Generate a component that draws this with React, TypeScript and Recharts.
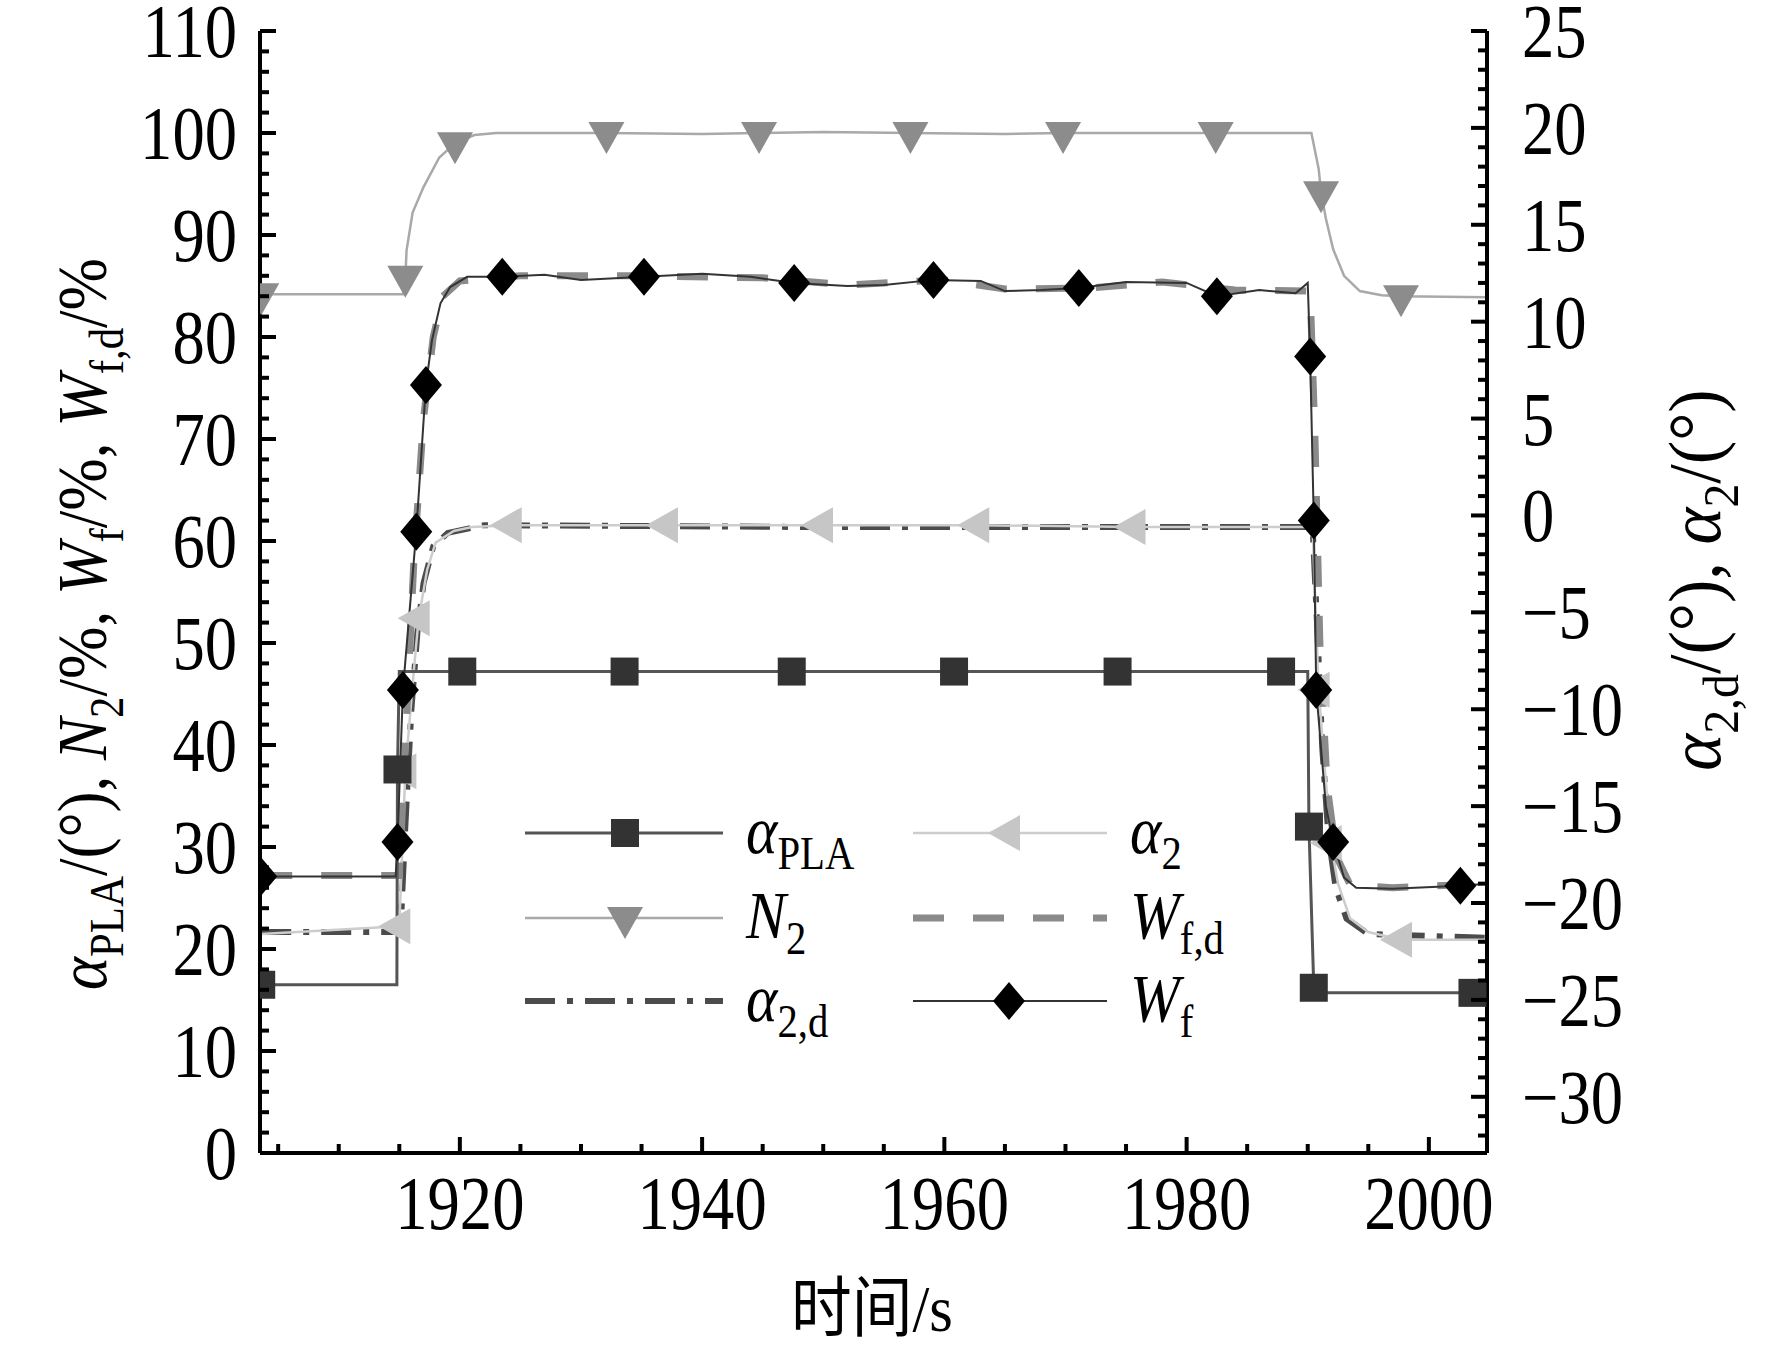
import React from 'react';
import { LineChart, Line, XAxis, YAxis } from 'recharts';

const FONT = "'Liberation Serif', 'Times New Roman', serif";
const W = 1772;
const H = 1349;
const PLOT = { left: 260, right: 1487, top: 31, bottom: 1153 };

// axes
const timeDomain = [1903.5, 2004.8];
const timeMajor = [1920, 1940, 1960, 1980, 2000];
const timeTicks = Array.from({ length: 20 }, (_, i) => 1905 + i * 5);
const leftDomain = [0, 110];
const leftMajor = [0, 10, 20, 30, 40, 50, 60, 70, 80, 90, 100, 110];
const leftTicks = Array.from({ length: 56 }, (_, i) => i * 2);
const rightDomain = [-32.9, 25];
const rightMajor = [-30, -25, -20, -15, -10, -5, 0, 5, 10, 15, 20, 25];
const rightTicks = Array.from({ length: 58 }, (_, i) => -32 + i);

// [time s, value, marker]
const alphaPLA = [
  [1903.6, 16.5, 1], [1914.8, 16.5], [1914.85, 37.6, 1], [1915.0, 47.2],
  [1920.2, 47.2, 1], [1933.6, 47.2, 1], [1947.4, 47.2, 1], [1960.8, 47.2, 1],
  [1974.3, 47.2, 1], [1987.8, 47.2, 1], [1990.0, 47.2], [1990.1, 32.0, 1],
  [1990.5, 16.2, 1], [1991.0, 15.7], [2003.6, 15.7, 1], [2004.8, 15.7],
];

const N2 = [
  [1903.6, 84.2, 1], [1915.3, 84.2], [1915.5, 85.9, 1], [1915.6, 88.5],
  [1916.1, 92.2], [1917.0, 94.7], [1918.3, 97.6], [1919.6, 99.0, 1],
  [1921.2, 99.8], [1923.0, 100.0], [1932.1, 100.0, 1], [1940.0, 99.9],
  [1944.7, 100.0, 1], [1950.0, 100.1], [1957.2, 100.0, 1], [1965.0, 99.9],
  [1969.8, 100.0, 1], [1982.4, 100.0, 1], [1990.3, 100.0], [1990.9, 96.5],
  [1991.1, 94.2, 1], [1991.5, 91.6], [1992.1, 88.6], [1993.0, 86.0],
  [1994.3, 84.5], [1996.1, 84.1], [1997.7, 84.0, 1], [2004.8, 83.9],
];

const alpha2d = [
  [1903.6, -21.5], [1915.1, -21.5], [1915.5, -16.0], [1916.0, -10.0],
  [1916.5, -6.0], [1917.0, -3.5], [1917.8, -1.6], [1919.0, -0.9],
  [1922.0, -0.5], [1950.0, -0.6], [1990.4, -0.6], [1990.8, -6.0],
  [1991.2, -12.0], [1991.7, -16.5], [1992.3, -19.2], [1993.2, -20.8],
  [1995.0, -21.6], [2004.8, -21.8],
];

const alpha2 = [
  [1903.6, -21.6], [1915.0, -21.2, 1], [1915.5, -13.2, 1], [1916.2, -8.0],
  [1916.6, -5.3, 1], [1917.3, -2.8], [1918.0, -1.4], [1919.5, -0.8],
  [1921.0, -0.6], [1924.2, -0.5, 1], [1937.1, -0.5, 1], [1949.9, -0.5, 1],
  [1962.8, -0.5, 1], [1975.7, -0.6, 1], [1988.0, -0.6], [1990.4, -0.6],
  [1990.9, -9.0, 1], [1991.9, -16.9, 1], [1992.5, -19.0], [1993.5, -20.8],
  [1995.0, -21.5], [1997.7, -21.9, 1], [2004.8, -21.9],
];

const Wfd = [
  [1903.6, 27.2], [1915.0, 27.2], [1915.5, 40.0], [1916.2, 58.0],
  [1917.0, 72.0], [1917.8, 80.0], [1918.6, 84.0], [1920.0, 85.5],
  [1925.0, 86.0], [1935.0, 86.0], [1945.0, 85.8], [1952.0, 85.1],
  [1960.0, 85.6], [1965.0, 84.7], [1972.0, 84.8], [1978.0, 85.4],
  [1984.0, 84.6], [1990.2, 84.5], [1990.6, 70.0], [1991.0, 50.0],
  [1991.6, 36.0], [1992.4, 29.0], [1993.5, 26.3], [1997.0, 26.0],
  [2004.8, 26.4],
];

const Wf = [
  [1903.6, 27.1, 1], [1914.7, 27.1], [1914.85, 30.5, 1], [1915.3, 45.4, 1],
  [1916.4, 60.9, 1], [1917.2, 75.3, 1], [1917.7, 79.7], [1918.4, 83.3],
  [1919.2, 84.9], [1920.6, 85.9], [1923.5, 85.9, 1], [1927.0, 86.1],
  [1930.0, 85.6], [1935.2, 85.9, 1], [1940.0, 86.2], [1944.0, 85.9],
  [1947.6, 85.3, 1], [1952.0, 85.0], [1955.0, 85.1], [1959.1, 85.6, 1],
  [1963.0, 85.5], [1965.0, 84.5], [1968.0, 84.6], [1971.1, 84.8, 1],
  [1975.0, 85.4], [1980.0, 85.3], [1982.5, 84.0, 1], [1986.0, 84.6],
  [1989.0, 84.3], [1990.0, 85.3], [1990.2, 78.1, 1], [1990.5, 62.0, 1],
  [1990.7, 45.4, 1], [1991.5, 34.0], [1992.1, 30.5, 1], [1993.0, 27.0],
  [1994.0, 26.0], [1997.0, 25.9], [2002.6, 26.2, 1], [2004.8, 26.4],
];

const toPts = (rows: number[][]) => rows.map(([t, v, m]) => ({ t, v, m: !!m }));

type Kind = 'square' | 'down' | 'left' | 'diamond';

const markerPath = (kind: Kind, cx: number, cy: number) => {
  switch (kind) {
    case 'down':
      return `M${cx - 18},${cy - 11} L${cx + 18},${cy - 11} L${cx},${cy + 21} Z`;
    case 'left':
      return `M${cx - 21},${cy} L${cx + 11},${cy - 18} L${cx + 11},${cy + 18} Z`;
    case 'diamond':
      return `M${cx},${cy - 19} L${cx + 16},${cy} L${cx},${cy + 19} L${cx - 16},${cy} Z`;
    default:
      return `M${cx - 14},${cy - 14} h28 v28 h-28 Z`;
  }
};

const makeDot = (kind: Kind, fill: string) => (p: any) => {
  const { cx, cy, payload, index } = p;
  if (!payload || !payload.m || cx == null || cy == null) return <g key={`d${index}`} />;
  return <path key={`d${index}`} d={markerPath(kind, cx, cy)} fill={fill} />;
};

const series = [
  { key: 'a2d', data: alpha2d, axis: 'right', stroke: '#4b4b4b', width: 6, dash: '30 12 6 12', kind: null, fill: '' },
  { key: 'a2', data: alpha2, axis: 'right', stroke: '#cdcdcd', width: 2.5, dash: undefined, kind: 'left', fill: '#c6c6c6' },
  { key: 'wfd', data: Wfd, axis: 'left', stroke: '#8a8a8a', width: 7, dash: '31 29', kind: null, fill: '' },
  { key: 'n2', data: N2, axis: 'left', stroke: '#a9a9a9', width: 2.5, dash: undefined, kind: 'down', fill: '#8c8c8c' },
  { key: 'pla', data: alphaPLA, axis: 'left', stroke: '#555555', width: 3, dash: undefined, kind: 'square', fill: '#333333' },
  { key: 'wf', data: Wf, axis: 'left', stroke: '#333333', width: 2, dash: undefined, kind: 'diamond', fill: '#000000' },
];

const fmt = (v: number) => (v < 0 ? '\u2212' + Math.abs(v) : String(v));

const NumLabel = ({ x, y, anchor, children }: any) => (
  <g transform={`translate(${x},${y}) scale(0.85,1)`}>
    <text textAnchor={anchor} fontSize={76} fontFamily={FONT} fill="#000">{children}</text>
  </g>
);

const LeftTick = (p: any) => {
  const v = p.payload.value;
  const y = p.y;
  const major = leftMajor.includes(v);
  return (
    <g key={`l${v}`}>
      <line x1={PLOT.left} x2={PLOT.left + (major ? 16 : 9)} y1={y} y2={y} stroke="#000" strokeWidth={4} />
      {major && <NumLabel x={237} y={y + 26} anchor="end">{fmt(v)}</NumLabel>}
    </g>
  );
};

const RightTick = (p: any) => {
  const v = p.payload.value;
  const y = p.y;
  const major = rightMajor.includes(v);
  return (
    <g key={`r${v}`}>
      <line x1={PLOT.right} x2={PLOT.right - (major ? 16 : 9)} y1={y} y2={y} stroke="#000" strokeWidth={4} />
      {major && <NumLabel x={1522} y={y + 26} anchor="start">{fmt(v)}</NumLabel>}
    </g>
  );
};

const TimeTick = (p: any) => {
  const v = p.payload.value;
  const x = p.x;
  const major = timeMajor.includes(v);
  return (
    <g key={`t${v}`}>
      <line x1={x} x2={x} y1={PLOT.bottom} y2={PLOT.bottom - (major ? 16 : 9)} stroke="#000" strokeWidth={4} />
      {major && <NumLabel x={x} y={1229} anchor="middle">{v}</NumLabel>}
    </g>
  );
};

type Seg = { t: string; i?: boolean; s?: boolean };

const RichText = ({ x, y, segs, size, anchor = 'start', rotate = 0, sx = 0.88 }: any) => {
  const off = size * 0.24;
  let shifted = false;
  return (
    <g transform={`translate(${x},${y}) rotate(${rotate}) scale(${sx},1)`}>
      <text textAnchor={anchor} fontSize={size} fontFamily={FONT} fill="#000">
        {(segs as Seg[]).map((s, k) => {
          let dy = 0;
          if (s.s && !shifted) { dy = off; shifted = true; }
          else if (!s.s && shifted) { dy = -off; shifted = false; }
          return (
            <tspan key={k} dy={dy} fontStyle={s.i ? 'italic' : 'normal'} fontSize={s.s ? size * 0.68 : size}>
              {s.t}
            </tspan>
          );
        })}
      </text>
    </g>
  );
};

const leftTitle: Seg[] = [
  { t: '\u03b1', i: true }, { t: 'PLA', s: true }, { t: '/(\u00b0), ' },
  { t: 'N', i: true }, { t: '2', s: true }, { t: '/%, ' },
  { t: 'W', i: true }, { t: 'f', s: true }, { t: '/%, ' },
  { t: 'W', i: true }, { t: 'f,d', s: true }, { t: '/%' },
];
const rightTitle: Seg[] = [
  { t: '\u03b1', i: true }, { t: '2,d', s: true }, { t: '/(\u00b0), ' },
  { t: '\u03b1', i: true }, { t: '2', s: true }, { t: '/(\u00b0)' },
];

const legendItems = [
  { col: 0, row: 0, key: 'pla', label: [{ t: '\u03b1', i: true }, { t: 'PLA', s: true }] },
  { col: 1, row: 0, key: 'a2', label: [{ t: '\u03b1', i: true }, { t: '2', s: true }] },
  { col: 0, row: 1, key: 'n2', label: [{ t: 'N', i: true }, { t: '2', s: true }] },
  { col: 1, row: 1, key: 'wfd', label: [{ t: 'W', i: true }, { t: 'f,d', s: true }] },
  { col: 0, row: 2, key: 'a2d', label: [{ t: '\u03b1', i: true }, { t: '2,d', s: true }] },
  { col: 1, row: 2, key: 'wf', label: [{ t: 'W', i: true }, { t: 'f', s: true }] },
];
const legendRows = [833, 918, 1001];
const legendCols = [{ x1: 525, x2: 723, mk: 625, lx: 746 }, { x1: 913, x2: 1107, mk: 1009, lx: 1130 }];

const Overlay = () => (
  <svg width={W} height={H} style={{ position: 'absolute', left: 0, top: 0, pointerEvents: 'none' }}>
    <RichText x={106} y={624} segs={leftTitle} size={70} anchor="middle" rotate={-90} sx={0.9} />
    <RichText x={1720} y={580} segs={rightTitle} size={74} anchor="middle" rotate={-90} sx={0.95} />
    <g transform="translate(872,1331) scale(0.92,1)">
      <text textAnchor="middle" fontSize={66} fontFamily={`${FONT}, 'Noto Sans CJK SC'`} fill="#000">
        <tspan fontFamily="'Noto Sans CJK SC'">时间</tspan>/s
      </text>
    </g>
    {legendItems.map((it) => {
      const s = series.find((q) => q.key === it.key)!;
      const c = legendCols[it.col];
      const y = legendRows[it.row];
      return (
        <g key={it.key}>
          <line x1={c.x1} x2={c.x2} y1={y} y2={y} stroke={s.stroke} strokeWidth={s.width} strokeDasharray={s.dash} />
          {s.kind && <path d={markerPath(s.kind as Kind, c.mk, y)} fill={s.fill} />}
          <RichText x={c.lx} y={y + 20} segs={it.label} size={68} />
        </g>
      );
    })}
  </svg>
);

export default function App() {
  return (
    <div style={{ position: 'absolute', left: 0, top: 0, width: W, height: H, background: '#fff' }}>
      <LineChart width={W} height={H} margin={{ top: PLOT.top, right: 0, bottom: 0, left: 0 }}>
        <XAxis
          type="number"
          dataKey="t"
          domain={timeDomain}
          allowDataOverflow
          ticks={timeTicks}
          interval={0}
          height={H - PLOT.bottom}
          tick={TimeTick}
          tickLine={false}
          axisLine={{ stroke: '#000', strokeWidth: 4 }}
        />
        <YAxis
          yAxisId="left"
          type="number"
          domain={leftDomain}
          allowDataOverflow
          ticks={leftTicks}
          interval={0}
          width={PLOT.left}
          tick={LeftTick}
          tickLine={false}
          axisLine={{ stroke: '#000', strokeWidth: 4 }}
        />
        <YAxis
          yAxisId="right"
          orientation="right"
          type="number"
          domain={rightDomain}
          allowDataOverflow
          ticks={rightTicks}
          interval={0}
          width={W - PLOT.right}
          tick={RightTick}
          tickLine={false}
          axisLine={{ stroke: '#000', strokeWidth: 4 }}
        />
        {series.map((s) => (
          <Line
            key={s.key}
            data={toPts(s.data)}
            dataKey="v"
            yAxisId={s.axis}
            type="linear"
            stroke={s.stroke}
            strokeWidth={s.width}
            strokeDasharray={s.dash}
            dot={s.kind ? makeDot(s.kind as Kind, s.fill) : false}
            activeDot={false}
            isAnimationActive={false}
          />
        ))}
      </LineChart>
      <Overlay />
    </div>
  );
}
